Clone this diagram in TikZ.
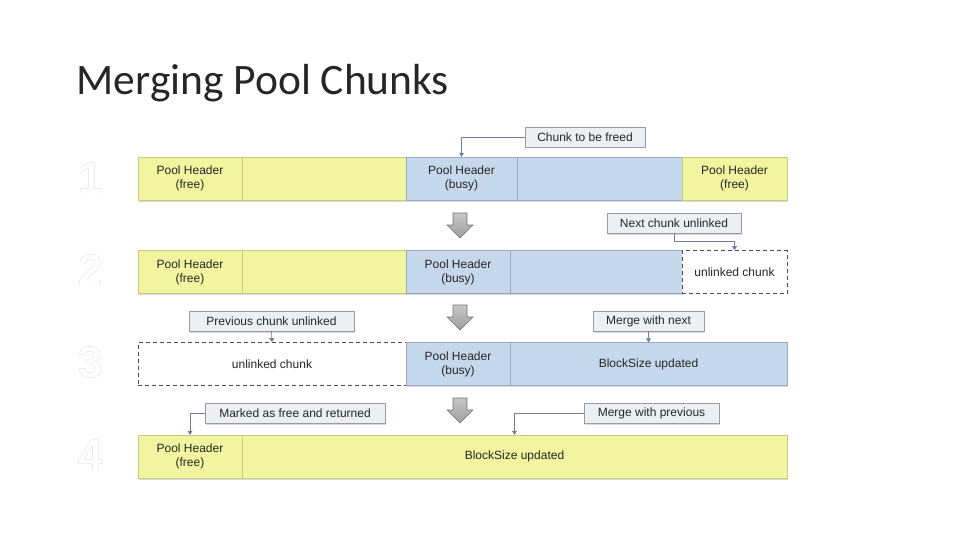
\documentclass[tikz,border=0pt]{standalone}
\usepackage{fontspec}
\setmainfont{Liberation Sans}
\newfontfamily\titlefont{Carlito}
\usepackage[outline]{contour}
\contourlength{0.9pt}
\usetikzlibrary{arrows.meta,shadows}
\definecolor{yfill}{RGB}{242,245,160}
\definecolor{yedge}{RGB}{200,204,130}
\definecolor{bfill}{RGB}{198,217,236}
\definecolor{bedge}{RGB}{150,170,195}
\definecolor{cfill}{RGB}{238,239,243}
\definecolor{cedge}{RGB}{150,155,170}
\definecolor{lnk}{RGB}{115,125,155}
\definecolor{numc}{RGB}{160,160,160}
\newcommand{\stepdigit}[1]{\contour{numc}{\textcolor{white}{#1}}}
\begin{document}
\begin{tikzpicture}[x=1pt,y=-1pt,
  seg/.style={inner sep=0pt, minimum height=43pt, align=center,
    font=\fontsize{12}{14}\selectfont, text=black!85,
    drop shadow={opacity=0.3, shadow xshift=0.5pt, shadow yshift=-1.5pt}},
  yseg/.style={seg, draw=yedge, fill=yfill},
  bseg/.style={seg, draw=bedge, fill=bfill},
  dseg/.style={inner sep=0pt, minimum height=43pt, align=center,
    font=\fontsize{12}{14}\selectfont, text=black!85,
    draw=black!70, fill=white, dash pattern=on 4pt off 3pt, line width=0.8pt},
  callout/.style={draw=cedge, fill=cfill, inner sep=0pt, minimum height=20pt,
    font=\fontsize{12}{14}\selectfont, text=black!85,
    drop shadow={opacity=0.3, shadow xshift=1pt, shadow yshift=-1.5pt}},
  link/.style={draw=lnk, line width=0.7pt, -{Triangle[width=5pt,length=4pt]}},
  num/.style={font=\bfseries\fontsize{44}{44}\selectfont},
  blk/.style={draw=black!55, top color=gray!45, bottom color=gray!75, line width=0.6pt},
  downarrow/.pic={\draw[blk] (-7,0) -- (7,0) -- (7,12) -- (13,12) -- (0,25) -- (-13,12) -- (-7,12) -- cycle;}
]
\useasboundingbox (0,0) rectangle (960,540);

\node[anchor=base west, font=\titlefont\fontsize{43.5}{44}\selectfont, text=black!85] (title) at (73,95) {Merging Pool Chunks};

% step numbers
\node[num] (n1) at (91,178) {\stepdigit{1}};
\node[num] (n2) at (91,270) {\stepdigit{2}};
\node[num] (n3) at (91,362) {\stepdigit{3}};
\node[num] (n4) at (91,455) {\stepdigit{4}};

% row 1
\node[yseg, minimum width=104pt] (r1a) at (190,178.5) {Pool Header\\(free)};
\node[yseg, minimum width=164pt] (r1b) at (324,178.5) {};
\node[bseg, minimum width=111pt] (r1c) at (461.5,178.5) {Pool Header\\(busy)};
\node[bseg, minimum width=165pt] (r1d) at (599.5,178.5) {};
\node[yseg, minimum width=105pt] (r1e) at (734.5,178.5) {Pool Header\\(free)};

% row 2
\node[yseg, minimum width=104pt] (r2a) at (190,272) {Pool Header\\(free)};
\node[yseg, minimum width=164pt] (r2b) at (324,272) {};
\node[bseg, minimum width=104pt] (r2c) at (458,272) {Pool Header\\(busy)};
\node[bseg, minimum width=172pt] (r2d) at (596,272) {};
\node[dseg, minimum width=105pt] (r2e) at (734.5,272) {unlinked chunk};

% row 3
\node[dseg, minimum width=268pt] (r3a) at (272,364) {unlinked chunk};
\node[bseg, minimum width=104pt] (r3b) at (458,364) {Pool Header\\(busy)};
\node[bseg, minimum width=277pt] (r3c) at (648.5,364) {BlockSize updated};

% row 4
\node[yseg, minimum width=104pt] (r4a) at (190,456.5) {Pool Header\\(free)};
\node[yseg, minimum width=545pt] (r4b) at (514.5,456.5) {BlockSize updated};

% block arrows
\pic at (460,213) {downarrow};
\pic at (460,305) {downarrow};
\pic at (460,398) {downarrow};

% callouts
\node[callout, minimum width=120pt] (c1) at (585,137) {Chunk to be freed};
\node[callout, minimum width=134pt] (c2) at (674,223) {Next chunk unlinked};
\node[callout, minimum width=165pt] (c3) at (271.5,321) {Previous chunk unlinked};
\node[callout, minimum width=111pt] (c4) at (648.5,321) {Merge with next};
\node[callout, minimum width=180pt] (c5) at (295,413) {Marked as free and returned};
\node[callout, minimum width=135pt] (c6) at (651.5,413) {Merge with previous};

% connectors
\draw[link] (c1.west) -| (r1c.north);
\draw[link] (c2.south) -- ++(0,8) -| (r2e.north);
\draw[link] (c3.south) -- (r3a.north);
\draw[link] (c4.south) -- (r3c.north);
\draw[link] (c5.west) -| (r4a.north);
\draw[link] (c6.west) -| (r4b.north);
\end{tikzpicture}
\end{document}
